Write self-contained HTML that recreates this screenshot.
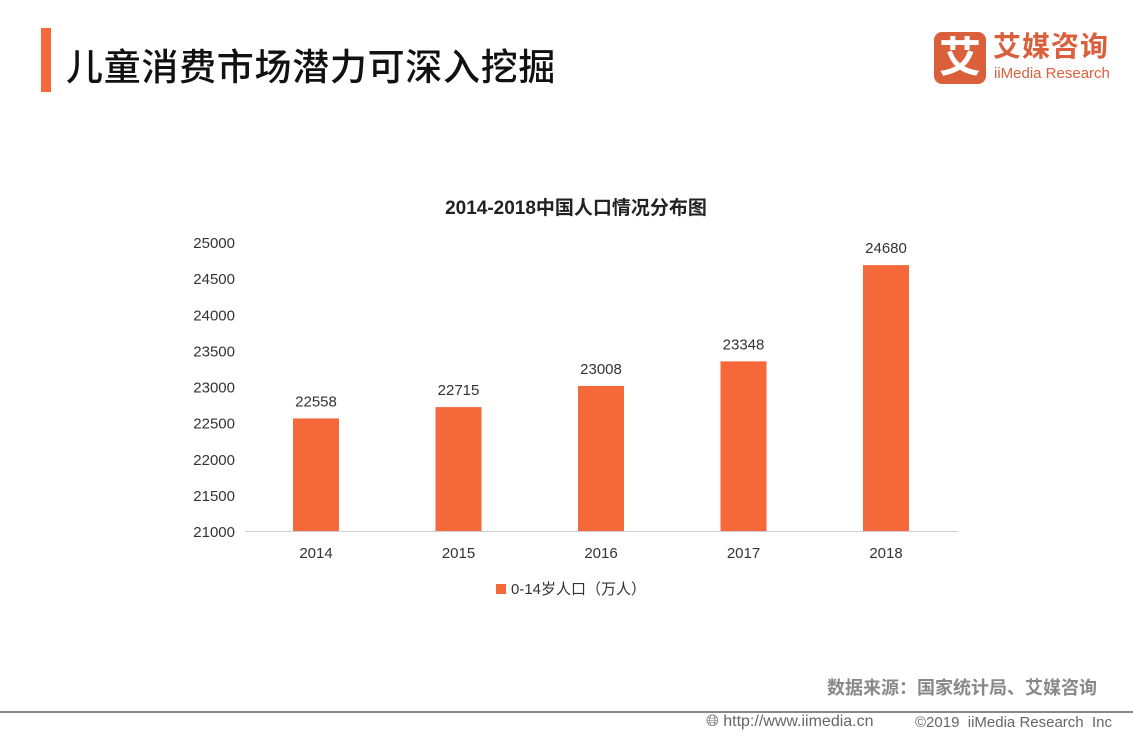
<!DOCTYPE html>
<html><head><meta charset="utf-8">
<style>
body{margin:0;width:1133px;height:737px;background:#fff;position:relative;overflow:hidden;font-family:"Liberation Sans","Noto Sans CJK SC",sans-serif;}
.abs{position:absolute;}
</style></head>
<body>
<div class="abs" style="left:41px;top:28px;width:10px;height:64px;background:#f4683a"></div>
<div class="abs" style="left:66px;top:46px;font-size:37px;letter-spacing:0.7px;line-height:44px;color:#111;white-space:nowrap;font-weight:500">儿童消费市场潜力可深入挖掘</div>
<div class="abs" style="left:934px;top:32px;width:52px;height:52px;background:#d9603a;border-radius:8px;color:#fff;font-size:42px;line-height:52px;text-align:center;font-weight:bold">艾</div>
<div class="abs" style="left:993px;top:30px;font-size:28px;line-height:34px;color:#d9603a;font-weight:bold;letter-spacing:1px">艾媒咨询</div>
<div class="abs" style="left:994px;top:64px;font-size:15px;line-height:20px;color:#d9603a">iiMedia Research</div>
<svg class="abs" style="left:0;top:0" width="1133" height="737">
<text x="576" y="214" text-anchor="middle" font-size="19" font-weight="bold" fill="#222">2014-2018中国人口情况分布图</text>
<g id="yaxis"></g><g id="bars"></g>
<line x1="245" x2="958" y1="531.5" y2="531.5" stroke="#d0d0d0" stroke-width="1"/>
<rect x="496" y="584" width="10" height="10" fill="#f4683a"/>
<text x="511" y="594" font-size="15" fill="#333">0-14岁人口（万人）</text>
</svg>
<div class="abs" style="right:36px;top:676px;font-size:18px;line-height:24px;color:#888;font-weight:bold">数据来源：国家统计局、艾媒咨询</div>
<div class="abs" style="left:0;top:711px;width:1133px;height:2px;background:#888"></div>
<div class="abs" style="left:706px;top:712px;font-size:16px;line-height:20px;color:#666">&#x1F310;&#xFE0E; http://www.iimedia.cn</div>
<div class="abs" style="left:915px;top:713px;font-size:15px;line-height:20px;color:#666;white-space:nowrap">©2019 &nbsp;iiMedia Research &nbsp;Inc</div>
<script>
const categories=["2014","2015","2016","2017","2018"];
const values=[22558,22715,23008,23348,24680];
const yTicks=[21000,21500,22000,22500,23000,23500,24000,24500,25000];
const NS="http://www.w3.org/2000/svg";
function y(v){return 531-(v-21000)*(289/4000);}
function x(i){return 316+i*142.5;}
const ya=document.getElementById('yaxis'),bg=document.getElementById('bars');
yTicks.forEach(t=>{const e=document.createElementNS(NS,'text');


e.setAttribute('x',235);e.setAttribute('y',y(t)+6);e.setAttribute('text-anchor','end');e.setAttribute('font-size','15');e.setAttribute('fill','#333');e.textContent=t;ya.appendChild(e);});
categories.forEach((c,i)=>{
const r=document.createElementNS(NS,'rect');


r.setAttribute('x',x(i)-23);r.setAttribute('width',46);r.setAttribute('y',y(values[i]));r.setAttribute('height',y(21000)-y(values[i]));r.setAttribute('fill','#f4683a');bg.appendChild(r);
const v=document.createElementNS(NS,'text');


v.setAttribute('x',x(i));v.setAttribute('y',y(values[i])-12);v.setAttribute('text-anchor','middle');v.setAttribute('font-size','15');v.setAttribute('fill','#333');v.textContent=values[i];bg.appendChild(v);
const l=document.createElementNS(NS,'text');


l.setAttribute('x',x(i));l.setAttribute('y',558);l.setAttribute('text-anchor','middle');l.setAttribute('font-size','15');l.setAttribute('fill','#333');l.textContent=c;bg.appendChild(l);
});
</script>
</body></html>
